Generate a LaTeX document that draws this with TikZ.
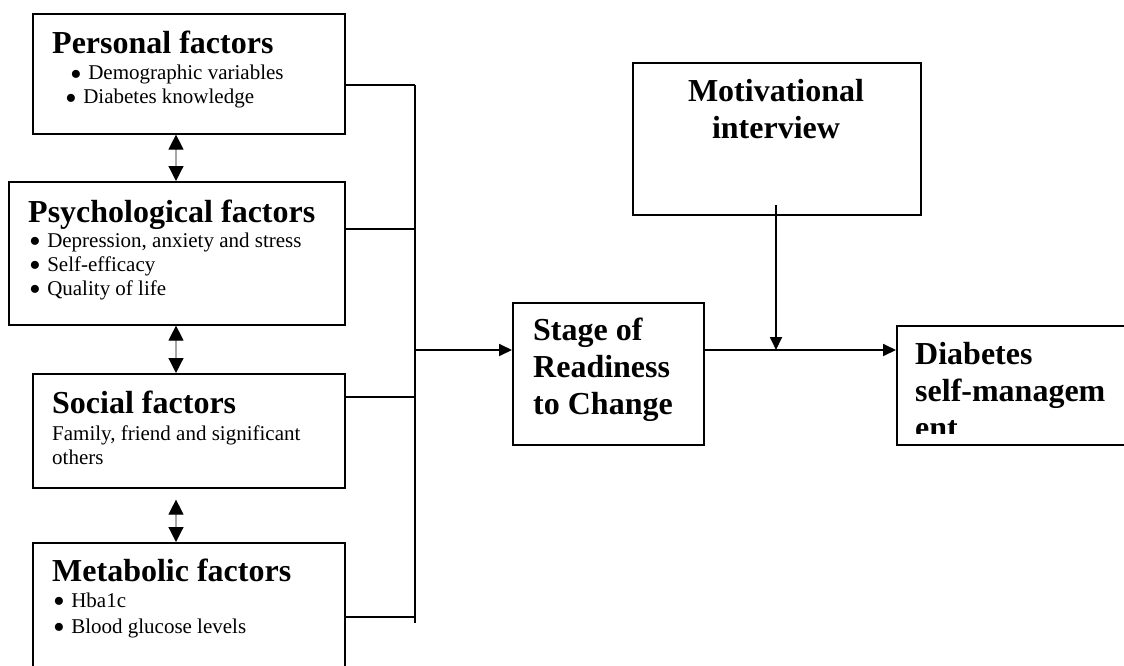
\documentclass[tikz,border=0pt]{standalone}
\usepackage{fontspec}
\setmainfont{Liberation Serif}
\usetikzlibrary{arrows.meta}
\newcommand{\bul}{\raisebox{-0.25em}{\scalebox{1.6}{\textbullet}}\hspace{0.3em}}
\tikzset{
  box/.style={draw=black, line width=1.6pt, fill=white, anchor=north west, inner sep=0pt},
  head/.style={anchor=base west, inner sep=0pt, font=\fontsize{32}{37}\selectfont\bfseries},
  body/.style={anchor=base west, inner sep=0pt, font=\fontsize{21}{24}\selectfont},
  link/.style={black, line width=1.8pt},
  tip/.style={-{Triangle[length=13pt,width=12pt]}},
  pair/.style={gray!70, line width=1.2pt,
    {Triangle[length=15pt,width=15pt,color=black]}-{Triangle[length=15pt,width=15pt,color=black]}}
}

\begin{document}
\begin{tikzpicture}[x=1pt, y=-1pt]
    \useasboundingbox (0,0) rectangle (1124,666);
    \coordinate (j1) at (415,85);
    \coordinate (j2) at (415,229);
    \coordinate (j3) at (415,397);
    \coordinate (j4) at (415,617);
    \coordinate (jend) at (415,623);
    \coordinate (jmid) at (415,350);
    \coordinate (mtop) at (776,205);
    \coordinate (mhit) at (776,350);

    % factor boxes
    \node[box, minimum width=312pt, minimum height=120pt] (pers) at (32,13) {};
    \node[box, minimum width=336pt, minimum height=143pt] (psy) at (8,181) {};
    \node[box, minimum width=312pt, minimum height=114pt] (soc) at (32,373) {};
    \node[box, minimum width=312pt, minimum height=140pt] (meta) at (32,542) {};

    \node[head] (persh) at (52,54) {Personal factors};
    \node[body] (pers1) at (70,80) {\bul Demographic variables};
    \node[body] (pers2) at (65,104) {\bul Diabetes knowledge};

    \node[head] (psyh) at (28,222) {Psychological factors};
    \node[body] (psy1) at (29,247) {\bul Depression, anxiety and stress};
    \node[body] (psy2) at (29,271) {\bul Self-efficacy};
    \node[body] (psy3) at (29,295) {\bul Quality of life};

    \node[head] (soch) at (52,413) {Social factors};
    \node[body] (soc1) at (52,440) {Family, friend and significant};
    \node[body] (soc2) at (52,464) {others};

    \node[head] (metah) at (52,581) {Metabolic factors};
    \node[body] (meta1) at (53,607) {\bul Hba1c};
    \node[body] (meta2) at (53,633) {\bul Blood glucose levels};

    % right side
    \node[box, minimum width=288pt, minimum height=152pt] (moti) at (632,62) {};
    \node[anchor=north, inner sep=0pt, align=center, font=\fontsize{32}{37}\selectfont\bfseries,
      text depth=0pt] (motit) at (776,79) {Motivational\\interview};
    \node[box, minimum width=191pt, minimum height=142pt] (stage) at (512,302) {};
    \node[anchor=north west, inner sep=0pt, align=left, font=\fontsize{32}{37}\selectfont\bfseries]
      (staget) at (533,318) {Stage of\\Readiness\\to Change};
    \node[box, minimum width=240pt, minimum height=119pt] (diab) at (896,325) {};
    \begin{scope}
      \clip (897,326) rectangle (1124,433);
      \node[anchor=north west, inner sep=0pt, align=left, font=\fontsize{32}{37}\selectfont\bfseries]
        (diabt) at (915,342) {Diabetes\\self-managem\\ent};
    \end{scope}

    % links
    \draw[pair] (pers.south -| 176,0) -- (psy.north -| 176,0);
    \draw[pair] (psy.south -| 176,0) -- (soc.north -| 176,0);
    \draw[pair] ([yshift=-11pt]soc.south -| 176,0) -- (meta.north -| 176,0);

    \draw[link] (pers.east |- j1) -- (j1);
    \draw[link] (psy.east |- j2) -- (j2);
    \draw[link] (soc.east |- j3) -- (j3);
    \draw[link] (meta.east |- j4) -- (j4);
    \draw[link] (j1) -- (jend);
    \draw[link, tip] (jmid) -- (stage.west |- jmid);
    \draw[link, tip] (stage.east |- jmid) -- (diab.west |- jmid);
    \draw[link, tip] (mtop) -- (mhit);
  \end{tikzpicture}
\end{document}
